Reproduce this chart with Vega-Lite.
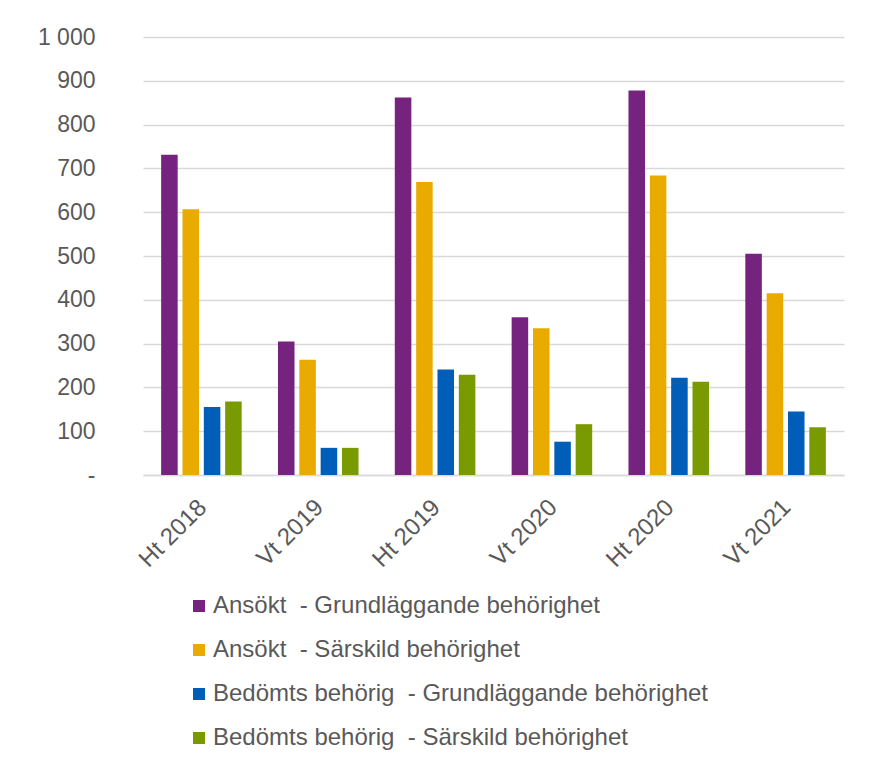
{
  "$schema": "https://vega.github.io/schema/vega-lite/v6.json",
  "autosize": {"type": "none"},
  "width": 701,
  "height": 438,
  "padding": {"left": 143, "top": 37, "right": 28, "bottom": 288},
  "background": "white",
  "config": {
    "font": "Liberation Sans",
    "view": {"stroke": null},
    "axis": {"labelColor": "#595959", "labelFont": "Liberation Sans", "labelFontSize": 23}
  },
  "data": {
    "values": [
      {"period": "Ht 2018", "series": "Ansökt  - Grundläggande behörighet", "value": 731},
      {"period": "Ht 2018", "series": "Ansökt  - Särskild behörighet", "value": 607},
      {"period": "Ht 2018", "series": "Bedömts behörig  - Grundläggande behörighet", "value": 155},
      {"period": "Ht 2018", "series": "Bedömts behörig  - Särskild behörighet", "value": 168},
      {"period": "Vt 2019", "series": "Ansökt  - Grundläggande behörighet", "value": 305},
      {"period": "Vt 2019", "series": "Ansökt  - Särskild behörighet", "value": 263},
      {"period": "Vt 2019", "series": "Bedömts behörig  - Grundläggande behörighet", "value": 62},
      {"period": "Vt 2019", "series": "Bedömts behörig  - Särskild behörighet", "value": 62},
      {"period": "Ht 2019", "series": "Ansökt  - Grundläggande behörighet", "value": 862},
      {"period": "Ht 2019", "series": "Ansökt  - Särskild behörighet", "value": 669},
      {"period": "Ht 2019", "series": "Bedömts behörig  - Grundläggande behörighet", "value": 241},
      {"period": "Ht 2019", "series": "Bedömts behörig  - Särskild behörighet", "value": 229},
      {"period": "Vt 2020", "series": "Ansökt  - Grundläggande behörighet", "value": 360},
      {"period": "Vt 2020", "series": "Ansökt  - Särskild behörighet", "value": 335},
      {"period": "Vt 2020", "series": "Bedömts behörig  - Grundläggande behörighet", "value": 76},
      {"period": "Vt 2020", "series": "Bedömts behörig  - Särskild behörighet", "value": 116},
      {"period": "Ht 2020", "series": "Ansökt  - Grundläggande behörighet", "value": 878},
      {"period": "Ht 2020", "series": "Ansökt  - Särskild behörighet", "value": 684},
      {"period": "Ht 2020", "series": "Bedömts behörig  - Grundläggande behörighet", "value": 222},
      {"period": "Ht 2020", "series": "Bedömts behörig  - Särskild behörighet", "value": 213},
      {"period": "Vt 2021", "series": "Ansökt  - Grundläggande behörighet", "value": 505},
      {"period": "Vt 2021", "series": "Ansökt  - Särskild behörighet", "value": 415},
      {"period": "Vt 2021", "series": "Bedömts behörig  - Grundläggande behörighet", "value": 145},
      {"period": "Vt 2021", "series": "Bedömts behörig  - Särskild behörighet", "value": 109}
    ]
  },
  "mark": {"type": "bar"},
  "encoding": {
    "x": {
      "field": "period", "type": "nominal", "sort": null,
      "scale": {"paddingInner": 0, "paddingOuter": 0},
      "axis": {"title": null, "labelAngle": -45, "labelFontSize": 24, "ticks": false, "domain": true, "domainColor": "#d9d9d9", "domainWidth": 1.5, "labelPadding": 20, "labelOffset": -7}
    },
    "xOffset": {
      "field": "series", "type": "nominal", "sort": null,
      "scale": {"paddingInner": 0.225, "paddingOuter": 0.85}
    },
    "y": {
      "field": "value", "type": "quantitative",
      "scale": {"domain": [0, 1000], "nice": false},
      "axis": {
        "title": null, "values": [0, 100, 200, 300, 400, 500, 600, 700, 800, 900, 1000],
        "domain": false, "ticks": false, "labelPadding": 48,
        "gridColor": "#d9d9d9", "gridWidth": 1.5,
        "labelExpr": "datum.value == 0 ? '-\u00a0\u00a0' : replace(format(datum.value, ','), ',', ' ')"
      }
    },
    "color": {
      "field": "series", "type": "nominal", "sort": null,
      "scale": {
        "domain": ["Ansökt  - Grundläggande behörighet", "Ansökt  - Särskild behörighet", "Bedömts behörig  - Grundläggande behörighet", "Bedömts behörig  - Särskild behörighet"],
        "range": ["#762380", "#EAAB00", "#005EB8", "#7A9A01"]
      },
      "legend": {
        "title": null, "orient": "none", "legendX": 44, "legendY": 557, "direction": "vertical",
        "symbolType": "square", "symbolSize": 144, "symbolStrokeWidth": 0, "symbolOpacity": 1,
        "labelFontSize": 24, "labelColor": "#595959", "labelFont": "Liberation Sans",
        "labelOffset": 2, "rowPadding": 20, "labelLimit": 700,
        "labelExpr": "replace(datum.label, '  ', '\u00a0\u00a0')"
      }
    }
  }
}
